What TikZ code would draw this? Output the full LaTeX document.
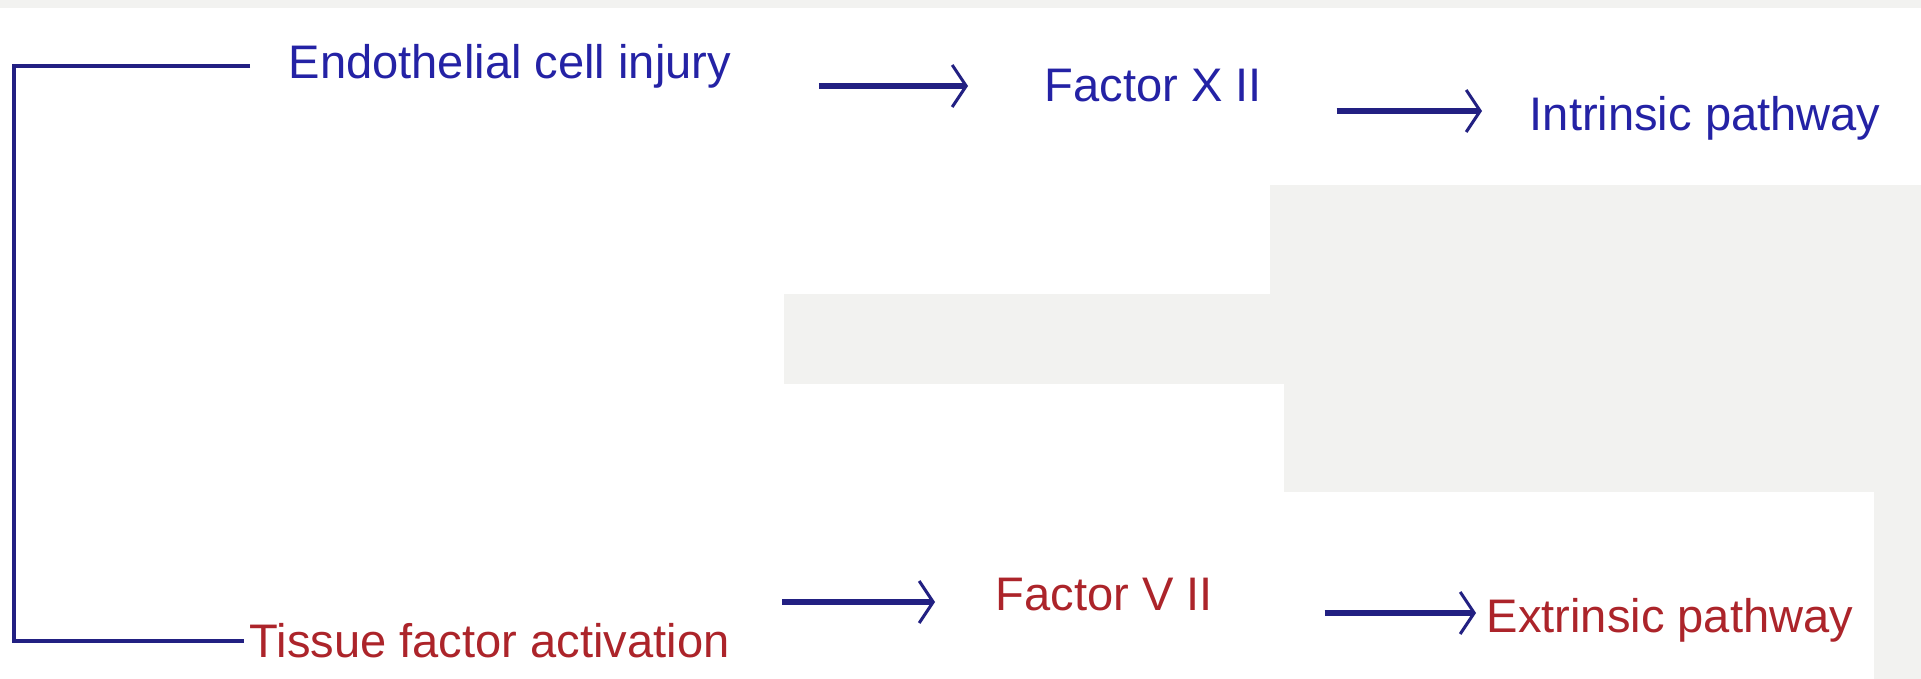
\documentclass[tikz,border=0pt]{standalone}
\usepackage{fontspec}
\setmainfont{Liberation Sans}
\usepackage{xcolor}
\usepackage{tikz}
\usetikzlibrary{arrows.meta,positioning}
\usetikzlibrary{calc}

\definecolor{txtblue}{RGB}{36,34,165}
\definecolor{txtred}{RGB}{172,36,42}
\definecolor{navy}{RGB}{34,32,130}
\definecolor{bggray}{RGB}{242,242,240}

\begin{document}
\begin{tikzpicture}[
  x=0.1mm, y=-0.1mm,
  lbl/.style={anchor=west, inner sep=0pt, font=\fontsize{13.4}{16}\selectfont},
  arr/.style={-{Straight Barb[length=1.4mm, width=4.2mm, line width=0.3mm 0]}, line width=0.55mm, navy},
  brace/.style={line width=0.35mm, navy}
]
  % background patches
  \fill[white] (0,0) rectangle (1921,679);
  \fill[bggray] (0,0) rectangle (1921,8);
  \fill[bggray] (784,294) rectangle (1270,384);
  \fill[bggray] (1270,185) rectangle (1921,384);
  \fill[bggray] (1284,384) rectangle (1921,492);
  \fill[bggray] (1874,492) rectangle (1921,679);
  \useasboundingbox (0,0) rectangle (1921,679);

  % upper row
  \node[lbl, txtblue] (eci) at (288,66) {Endothelial cell injury};
  \node[lbl, txtblue] (f12) at (1044,86) {Factor X II};
  \node[lbl, txtblue] (in2) at (1529,118) {Intrinsic pathway};

  % lower row
  \node[lbl, txtred] (tfa) at (249,641) {Tissue factor activation};
  \node[lbl, txtred] (f7) at (995,595) {Factor V II};
  \node[lbl, txtred] (ext) at (1486,620) {Extrinsic pathway};

  \coordinate (spine) at (14,0);
  \draw[brace] ([xshift=-3.8mm]eci.west) -- (eci.west -| spine) -- (tfa.west -| spine) -- ([xshift=-0.5mm]tfa.west);

  \draw[arr, shorten <=8.7mm, shorten >=7.6mm] (eci.east |- f12.west) -- (f12.west);
  \draw[arr, shorten <=7.4mm, shorten >=4.7mm] ([yshift=0.7mm]f12.east |- in2.west) -- ([yshift=0.7mm]in2.west);
  \draw[arr, shorten <=5.2mm, shorten >=6.0mm] ([yshift=-0.7mm]tfa.east |- f7.west) -- ([yshift=-0.7mm]f7.west);
  \draw[arr, shorten <=11.1mm, shorten >=1.0mm] ([yshift=0.7mm]f7.east |- ext.west) -- ([yshift=0.7mm]ext.west);
\end{tikzpicture}
\end{document}
